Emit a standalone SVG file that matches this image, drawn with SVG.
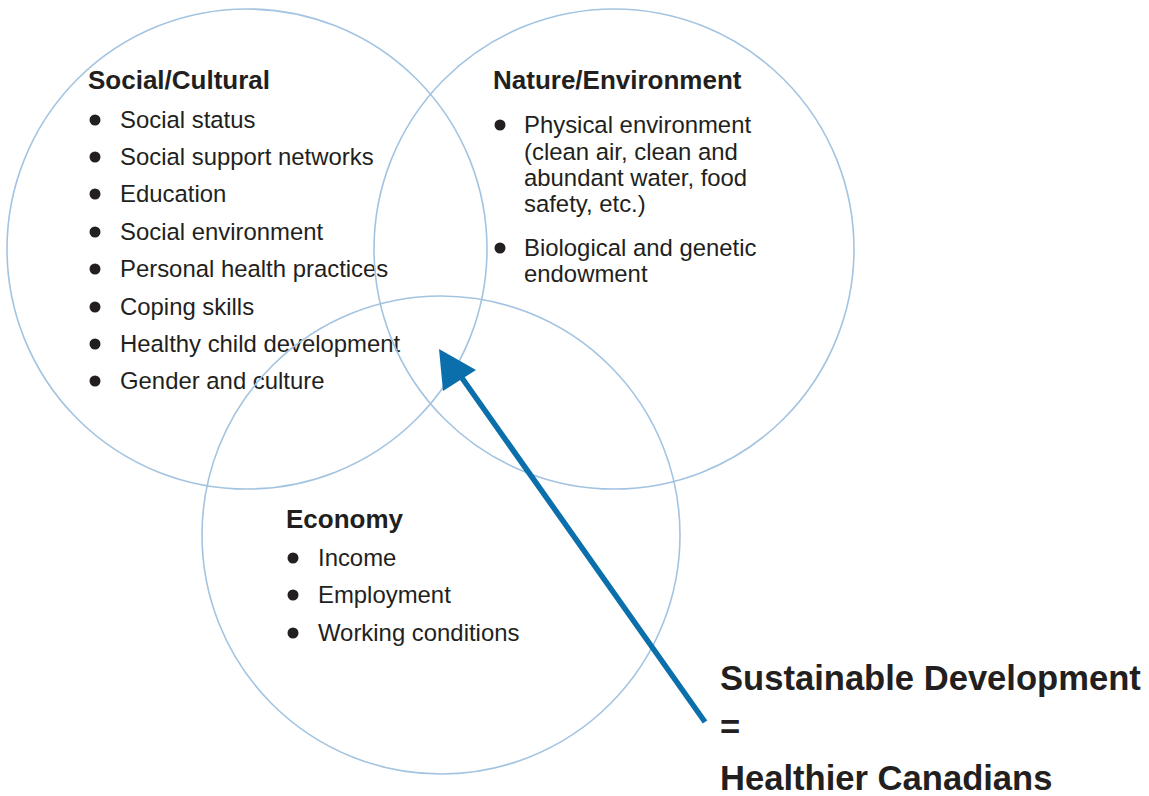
<svg xmlns="http://www.w3.org/2000/svg" width="1149" height="796" viewBox="0 0 1149 796">
  <style>
    .ring { fill: none; stroke: #a3c4e1; stroke-width: 1.6; }
    .title { font-family: "Liberation Sans", Arial, sans-serif; font-weight: bold; font-size: 26px; fill: #231f20; }
    .item { font-family: "Liberation Sans", Arial, sans-serif; font-size: 23.9px; fill: #231f20; }
    .big { font-family: "Liberation Sans", Arial, sans-serif; font-weight: bold; font-size: 34.6px; fill: #231f20; }
    .dot { fill: #231f20; }
  </style>
  <rect width="1149" height="796" fill="#ffffff"/>

  <g id="social">
    <circle class="ring" cx="247" cy="249" r="240"/>
    <text class="title" x="88" y="89">Social/Cultural</text>
    <g class="item">
      <circle class="dot" cx="95" cy="120" r="5.5"/><text x="120" y="128">Social status</text>
      <circle class="dot" cx="95" cy="157" r="5.5"/><text x="120" y="165">Social support networks</text>
      <circle class="dot" cx="95" cy="194" r="5.5"/><text x="120" y="202">Education</text>
      <circle class="dot" cx="95" cy="232" r="5.5"/><text x="120" y="240">Social environment</text>
      <circle class="dot" cx="95" cy="269" r="5.5"/><text x="120" y="277">Personal health practices</text>
      <circle class="dot" cx="95" cy="307" r="5.5"/><text x="120" y="315">Coping skills</text>
      <circle class="dot" cx="95" cy="344" r="5.5"/><text x="120" y="352">Healthy child development</text>
      <circle class="dot" cx="95" cy="381" r="5.5"/><text x="120" y="389">Gender and culture</text>
    </g>
  </g>

  <g id="nature">
    <circle class="ring" cx="614" cy="249" r="240"/>
    <text class="title" x="493" y="89">Nature/Environment</text>
    <g class="item">
      <circle class="dot" cx="500" cy="125" r="5.5"/>
      <text x="524" y="133">Physical environment</text>
      <text x="524" y="160">(clean air, clean and</text>
      <text x="524" y="186">abundant water, food</text>
      <text x="524" y="212">safety, etc.)</text>
      <circle class="dot" cx="500" cy="248" r="5.5"/>
      <text x="524" y="256">Biological and genetic</text>
      <text x="524" y="282">endowment</text>
    </g>
  </g>

  <g id="economy">
    <circle class="ring" cx="441" cy="535" r="239"/>
    <text class="title" x="286" y="528">Economy</text>
    <g class="item">
      <circle class="dot" cx="293" cy="558" r="5.5"/><text x="318" y="566">Income</text>
      <circle class="dot" cx="293" cy="595" r="5.5"/><text x="318" y="603">Employment</text>
      <circle class="dot" cx="293" cy="633" r="5.5"/><text x="318" y="641">Working conditions</text>
    </g>
  </g>

  <g id="connectors">
    <line x1="705" y1="722" x2="462" y2="378" stroke="#0a6fab" stroke-width="5.5"/>
    <polygon points="439,349 476,370 443,391" fill="#0a6fab"/>
  </g>

  <g id="conclusion">
    <text class="big" x="720" y="690">Sustainable Development</text>
    <text class="big" x="720" y="739">=</text>
    <text class="big" x="720" y="790">Healthier Canadians</text>
  </g>
</svg>
